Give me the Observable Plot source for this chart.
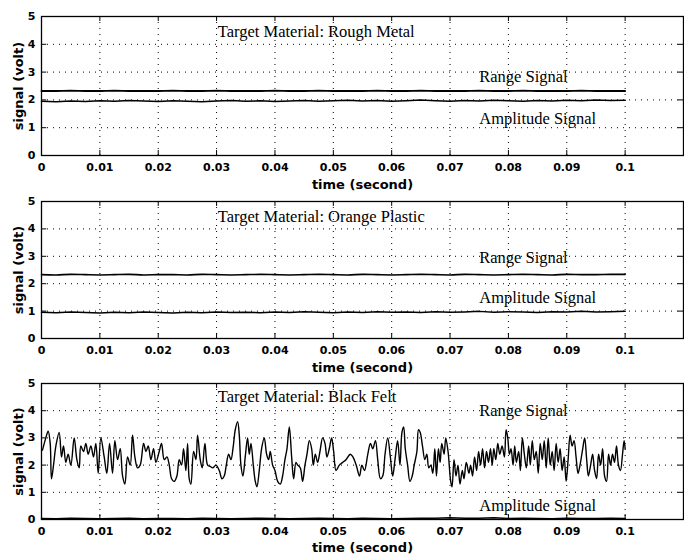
<!DOCTYPE html>
<html><head><meta charset="utf-8">
<script src="https://cdn.jsdelivr.net/npm/d3@7"></script>
<script src="https://cdn.jsdelivr.net/npm/@observablehq/plot@0.6"></script>
<style>
body{margin:0;background:#fff}
#chart svg{display:block}
</style>
</head><body><div id="chart"></div>
<script>
const xTicks = [0,0.01,0.02,0.03,0.04,0.05,0.06,0.07,0.08,0.09,0.1];
const yTicks = [0,1,2,3,4,5];
const xGrid = [0.01,0.02,0.03,0.04,0.05,0.06,0.07,0.08,0.09,0.1];
const yGrid = [1,2,3,4];

const materials = ["Target Material: Rough Metal","Target Material: Orange Plastic","Target Material: Black Felt"];

// sample times for the quasi-flat traces (s)
const tFlat = [0,0.0025,0.005,0.0075,0.01,0.0125,0.015,0.0175,0.02,0.0225,
  0.025,0.0275,0.03,0.0325,0.035,0.0375,0.04,0.0425,0.045,0.0475,
  0.05,0.0525,0.055,0.0575,0.06,0.0625,0.065,0.0675,0.07,0.0725,
  0.075,0.0775,0.08,0.0825,0.085,0.0875,0.09,0.0925,0.095,0.0975,0.1];

// Rough Metal
const range1 = [2.32,2.32,2.33,2.32,2.32,2.33,2.32,2.32,2.32,2.33,
  2.32,2.32,2.33,2.32,2.32,2.32,2.33,2.32,2.32,2.33,
  2.32,2.32,2.32,2.33,2.32,2.32,2.33,2.32,2.32,2.32,
  2.33,2.32,2.32,2.33,2.32,2.32,2.32,2.33,2.32,2.32,2.32];
const amp1 = [1.95,1.93,1.96,1.94,1.97,1.95,1.98,1.96,1.94,1.97,
  1.95,1.93,1.96,1.98,1.95,1.97,1.94,1.96,1.98,1.95,
  1.97,1.99,1.96,1.98,1.95,1.97,2.0,1.97,1.95,1.98,
  1.96,1.99,1.97,1.95,1.98,1.96,1.99,1.97,2.0,1.98,1.99];

// Orange Plastic
const range2 = [2.33,2.32,2.34,2.33,2.32,2.33,2.34,2.32,2.33,2.33,
  2.32,2.34,2.33,2.32,2.33,2.34,2.33,2.32,2.33,2.34,
  2.33,2.32,2.34,2.33,2.32,2.33,2.34,2.33,2.32,2.34,
  2.33,2.32,2.33,2.34,2.33,2.32,2.34,2.33,2.33,2.34,2.34];
const amp2 = [0.96,0.94,0.97,0.95,0.93,0.96,0.94,0.97,0.95,0.93,
  0.96,0.94,0.97,0.95,0.96,0.94,0.97,0.95,0.98,0.96,
  0.94,0.97,0.95,0.98,0.96,0.97,0.95,0.98,0.96,0.97,
  0.99,0.96,0.98,0.97,0.95,0.98,0.97,0.99,0.97,0.98,0.99];

// Black Felt
const amp3 = [0.04,0.03,0.05,0.04,0.03,0.04,0.05,0.03,0.04,0.04,
  0.03,0.05,0.04,0.03,0.04,0.05,0.04,0.03,0.04,0.05,
  0.04,0.03,0.05,0.04,0.03,0.04,0.05,0.05,0.06,0.05,
  0.05,0.06,0.04,0.05,0.04,0.03,0.05,0.04,0.04,0.05,0.04];
const tFelt = [0.00017,0.00074,0.00114,0.00149,0.00171,0.00206,0.00246,0.00303,0.00343,0.00377,
  0.00417,0.00457,0.00503,0.0056,0.00606,0.00646,0.00674,0.0072,0.0076,0.008,
  0.00846,0.00891,0.00931,0.00971,0.01017,0.01074,0.0112,0.01166,0.01217,0.01257,
  0.01303,0.01349,0.01389,0.01429,0.01474,0.0152,0.0156,0.016,0.01646,0.01691,
  0.01749,0.01789,0.01829,0.01874,0.0192,0.0196,0.02017,0.02057,0.02103,0.02149,
  0.02189,0.02229,0.02274,0.0232,0.0236,0.024,0.02434,0.02474,0.02503,0.02531,
  0.0256,0.02606,0.02646,0.02674,0.0272,0.02754,0.028,0.02846,0.02891,0.02937,
  0.02989,0.03046,0.03091,0.03131,0.03166,0.03206,0.03246,0.03286,0.0332,0.0336,
  0.03389,0.03417,0.03451,0.03491,0.03531,0.0356,0.03589,0.03629,0.03663,0.03691,
  0.03731,0.03771,0.03817,0.03857,0.03891,0.0392,0.0396,0.04,0.04046,0.04091,
  0.04131,0.04171,0.04206,0.04246,0.04286,0.0432,0.0436,0.04389,0.04434,0.04474,
  0.04514,0.04549,0.04589,0.04629,0.04657,0.04691,0.04731,0.04771,0.04817,0.04857,
  0.04891,0.04931,0.04971,0.05006,0.05046,0.05103,0.0516,0.05217,0.05291,
  0.05335,0.05392,0.05449,0.05489,0.05534,0.05591,0.05636,0.05676,0.05722,0.05761,
  0.05807,0.05847,0.05886,0.05932,0.05977,0.06017,0.06057,0.06102,0.06142,0.06176,
  0.06205,0.06233,0.06273,0.06313,0.06352,0.06386,0.06432,0.0646,0.06489,0.06528,
  0.06568,0.06602,0.06636,0.0667,0.06705,0.06739,0.06767,0.06801,0.0683,0.06858,
  0.06898,0.06926,0.06966,0.07011,0.07034,0.07068,0.07102,0.07136,0.0717,0.0721,
  0.07239,0.07278,0.07324,0.07352,0.07386,0.0742,0.07455,0.07489,0.07523,0.07557,
  0.07591,0.07625,0.07659,0.07693,0.07722,0.0775,0.07784,0.07818,0.07852,0.07892,
  0.07932,0.0796,0.07989,0.08017,0.08045,0.0808,0.08108,0.08136,0.08176,0.08205,
  0.08239,0.08273,0.08307,0.08347,0.08375,0.08409,0.08443,0.08477,0.08511,0.08545,
  0.0858,0.08614,0.08648,0.08682,0.08716,0.0875,0.08784,0.08818,0.08852,0.08886,
  0.0892,0.08955,0.08989,0.09023,0.09057,0.09091,0.09125,0.09159,0.09193,0.09227,
  0.09273,0.09307,0.09341,0.0937,0.09409,0.09443,0.09477,0.09511,0.09545,0.0958,
  0.09614,0.09648,0.09682,0.09716,0.0975,0.09784,0.09818,0.09852,0.09886,0.0992,
  0.09955,0.09983,0.1];
const range3 = [2.55,3.0,3.25,2.8,1.5,2.0,2.7,3.2,2.3,2.7,
  2.1,2.4,2.0,3.0,2.2,1.9,2.7,2.5,2.8,2.4,
  2.7,2.3,2.8,1.7,3.0,2.3,1.7,2.8,1.7,2.9,
  2.2,2.6,1.6,1.3,2.3,2.0,3.1,2.3,1.9,2.0,
  2.8,2.5,2.7,2.2,2.6,2.1,2.5,2.8,2.2,2.3,
  2.0,1.5,1.4,1.6,2.2,2.0,2.6,1.8,2.8,1.5,
  1.3,2.5,2.2,3.1,2.2,1.9,2.8,2.0,1.95,1.9,
  2.0,1.8,1.5,1.6,2.0,2.4,2.2,2.7,3.3,3.6,
  3.1,2.0,1.6,2.3,3.0,2.4,2.8,2.0,1.4,1.2,
  1.8,2.6,3.0,2.4,2.2,2.5,2.0,1.8,1.4,1.3,
  1.6,2.2,2.6,3.4,2.3,1.5,2.1,2.0,1.9,1.4,
  2.0,2.4,2.9,2.6,2.0,2.4,2.1,2.5,3.0,2.8,
  2.3,2.6,3.0,2.5,1.8,2.0,2.1,2.2,2.4,
  2.3,2.0,1.6,2.0,1.8,2.4,2.8,2.6,2.9,2.2,
  1.5,1.6,2.4,3.0,2.3,1.6,2.2,2.9,2.0,3.2,
  3.4,2.6,2.0,1.4,1.6,2.0,2.5,3.3,3.2,2.7,
  2.2,2.4,1.9,2.0,1.7,2.6,1.6,2.6,2.1,2.8,
  2.4,3.0,2.5,1.4,1.2,2.2,1.6,2.0,1.3,1.8,
  1.5,2.1,1.7,2.0,1.6,2.3,1.8,2.5,2.0,2.6,
  1.9,2.5,2.1,2.6,2.0,2.6,2.2,2.8,2.4,2.7,
  2.3,3.3,3.0,2.4,2.6,2.0,2.7,2.1,2.5,1.8,
  3.0,2.4,1.9,2.7,2.0,2.9,2.2,2.5,1.7,2.8,
  2.2,2.9,1.9,3.0,2.0,2.5,1.8,2.8,2.1,2.6,
  1.8,2.3,1.4,2.2,3.1,2.7,2.9,2.3,1.7,2.0,
  2.6,3.0,2.2,1.6,2.0,2.4,1.8,1.5,2.4,2.0,
  2.6,1.6,1.4,2.4,2.0,2.4,2.1,2.7,2.0,1.8,
  2.4,2.9,2.6];

// annotation anchors (time, volt)
const titlePos = [[0.0302,4.47],[0.0302,4.45],[0.0302,4.52]];
const rangeLabelPos = [[0.075,2.85],[0.075,2.96],[0.075,4.0]];
const ampLabelPos = [[0.075,1.31],[0.075,1.5],[0.075,0.51]];

const rows = (t, v) => t.map((x, i) => ({t: x, v: v[i]}));

const panels = [
  {range: rows(tFlat, range1), rangeW: 1.8, amp: rows(tFlat, amp1), mt: 16, mb: 38, h: 193, xlab: 33},
  {range: rows(tFlat, range2), rangeW: 1.6, amp: rows(tFlat, amp2), mt: 8, mb: 38, h: 183, xlab: 33},
  {range: rows(tFelt, range3), rangeW: 1.4, amp: rows(tFlat, amp3), mt: 7, mb: 40, h: 183, xlab: 32}
];

const serif = "'Liberation Serif', 'Times New Roman', serif";
const sans = "'DejaVu Sans', sans-serif";

panels.forEach((p, i) => {
  const annot = [
    {x: titlePos[i][0], y: titlePos[i][1], s: materials[i]},
    {x: rangeLabelPos[i][0], y: rangeLabelPos[i][1], s: "Range Signal"},
    {x: ampLabelPos[i][0], y: ampLabelPos[i][1], s: "Amplitude Signal"}
  ];
  const chart = Plot.plot({
    width: 684, height: p.h,
    marginLeft: 41, marginRight: 1, marginTop: p.mt, marginBottom: p.mb,
    style: {fontFamily: sans, fontSize: "11px", fontWeight: "bold", color: "black", background: "white"},
    x: {domain: [0, 0.11], ticks: xTicks, tickFormat: d => String(d), tickSize: 0, tickPadding: 8, label: null},
    y: {domain: [0, 5], ticks: yTicks, tickFormat: d => String(d), tickSize: 0, tickPadding: 6, label: null},
    marks: [
      Plot.ruleX(xGrid, {stroke: "black", strokeWidth: 1, strokeDasharray: "1,5"}),
      Plot.ruleY(yGrid, {stroke: "black", strokeWidth: 1, strokeDasharray: "1,5"}),
      Plot.ruleX(xTicks, {y1: 0, y2: 0.18, stroke: "black"}),
      Plot.ruleX(xTicks, {y1: 4.82, y2: 5, stroke: "black"}),
      Plot.ruleY(yTicks, {x1: 0, x2: 0.0009, stroke: "black"}),
      Plot.ruleY(yTicks, {x1: 0.1091, x2: 0.11, stroke: "black"}),
      Plot.line(p.amp, {x: "t", y: "v", stroke: "black", strokeWidth: 1.5}),
      Plot.line(p.range, {x: "t", y: "v", stroke: "black", strokeWidth: p.rangeW, curve: "catmull-rom"}),
      Plot.text(annot, {x: "x", y: "y", text: "s", textAnchor: "start", fontFamily: serif, fontSize: 16.5, fontWeight: "normal", fill: "black"}),
      Plot.frame({stroke: "black", strokeWidth: 1.3}),
      Plot.text(["time (second)"], {text: d => d, frameAnchor: "bottom", dy: p.xlab, fontSize: 13, fill: "black"}),
      Plot.text(["signal (volt)"], {text: d => d, x: () => -0.0038, y: () => 2.5, rotate: -90, fontSize: 13, fill: "black"})
    ]
  });
  document.getElementById("chart").appendChild(chart);
});
</script>
</body></html>
